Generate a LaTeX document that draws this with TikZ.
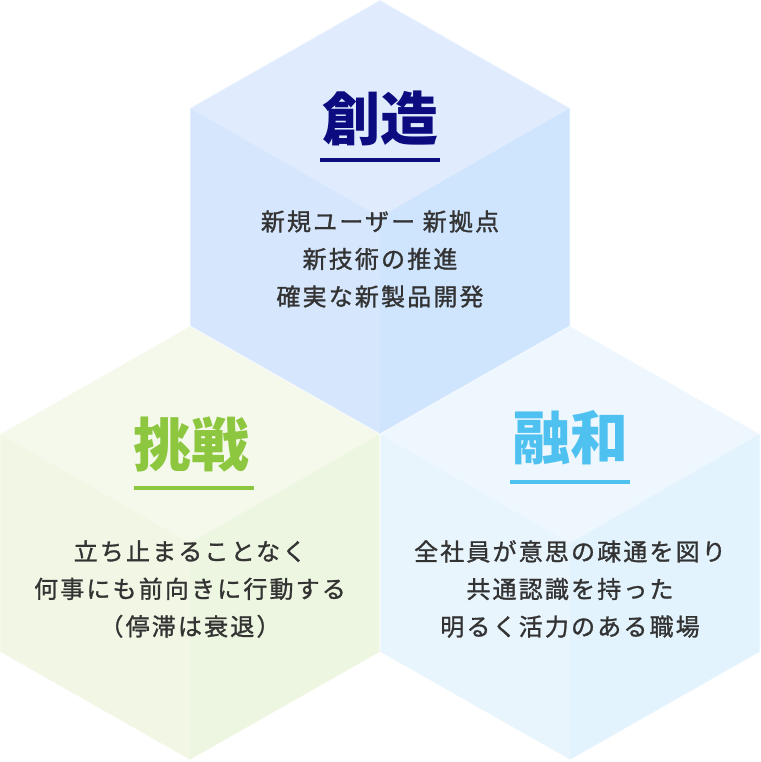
\documentclass[tikz,border=0pt]{standalone}
\usepackage{fontspec}
\setmainfont{Noto Sans CJK JP}
\newfontfamily\jpbody[LetterSpace=9,FakeBold=1.2]{Noto Sans CJK JP}
\usetikzlibrary{positioning}
\definecolor{ctext}{RGB}{51,51,51}
\definecolor{cnavy}{RGB}{12,12,128}
\definecolor{cgreen}{RGB}{141,198,63}
\definecolor{csky}{RGB}{79,193,240}
\definecolor{cbluetop}{RGB}{224,236,253}
\definecolor{cblueleft}{RGB}{214,231,253}
\definecolor{cblueright}{RGB}{207,228,253}
\definecolor{cgreentop}{RGB}{245,249,236}
\definecolor{cgreenleft}{RGB}{241,247,228}
\definecolor{cgreenright}{RGB}{237,246,224}
\definecolor{cskytop}{RGB}{239,247,254}
\definecolor{cskyleft}{RGB}{233,245,253}
\definecolor{cskyright}{RGB}{227,243,253}
% hexagon as a cube: centre x, centre y, top, left, right face colours
\newcommand{\hexcube}[5]{%
  \fill[#3] (#1,{#2-217})--(#1+190,{#2-109})--(#1,#2)--(#1-190,{#2-109})--cycle;
  \fill[#4] (#1-190,{#2-109})--(#1,#2)--(#1,{#2+217})--(#1-190,{#2+109})--cycle;
  \fill[#5] (#1,#2)--(#1+190,{#2-109})--(#1+190,{#2+109})--(#1,{#2+217})--cycle;
  \draw[white,opacity=0.5,line width=1.2pt]
    (#1,{#2-217})--(#1+190,{#2-109})--(#1+190,{#2+109})--(#1,{#2+217})
    --(#1-190,{#2+109})--(#1-190,{#2-109})--cycle;}

\begin{document}
\begin{tikzpicture}[
  x=1pt,y=-1pt,
  title/.style={font=\fontsize{58}{62}\selectfont\bfseries,inner sep=0pt},
  bodytext/.style={font=\jpbody\fontsize{24}{37.5}\selectfont,text=ctext,
                   align=center,inner sep=0pt},
  uline/.style={line width=4pt},
]
\useasboundingbox (0,0) rectangle (760,762);

% ===== HEXAGONS =====
\hexcube{190}{543}{cgreentop}{cgreenleft}{cgreenright}
\hexcube{570}{543}{cskytop}{cskyleft}{cskyright}
\hexcube{380}{217}{cbluetop}{cblueleft}{cblueright}

% ===== 創造 =====
\node[title,text=cnavy] (sozo) at (380,118) {創造};
\draw[uline,cnavy] (320,160)--(440,160);
\node[bodytext] (sozotext) at (380,259) {新規ユーザー 新拠点\\新技術の推進\\確実な新製品開発};

% ===== 挑戦 =====
\node[title,text=cgreen] (chosen) at (191,445) {挑戦};
\draw[uline,cgreen] (134,488)--(254,488);
\node[bodytext] (chosentext) at (190,589) {立ち止まることなく\\何事にも前向きに行動する\\（停滞は衰退）};

% ===== 融和 =====
\node[title,text=csky] (yuwa) at (570,438) {融和};
\draw[uline,csky] (510,482)--(630,482);
\node[bodytext] (yuwatext) at (570,589) {全社員が意思の疎通を図り\\共通認識を持った\\明るく活力のある職場};

\end{tikzpicture}
\end{document}
